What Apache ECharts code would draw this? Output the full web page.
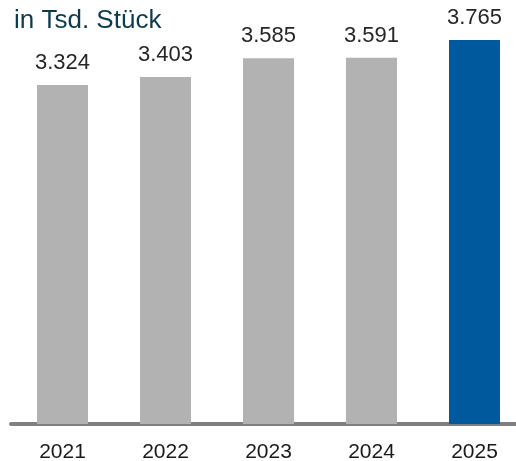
<!DOCTYPE html>
<html><head><meta charset="utf-8">
<script src="https://cdn.jsdelivr.net/npm/echarts@6/dist/echarts.min.js"></script>
<style>html,body{margin:0;padding:0;background:#fff}#c{width:516px;height:461px}</style>
</head><body><div id="c"></div>
<script>
var categories = ['2021','2022','2023','2024','2025'];
var values = [3324, 3403, 3585, 3591, 3765];
var barColors = ['#b2b2b2','#b2b2b2','#b2b2b2','#b2b2b2','#00589d'];
var titleText = 'in Tsd. Stück';
function fmt(v){ return String(v).replace(/(\d)(?=(\d{3})+$)/g,'$1.'); }
var chart = echarts.init(document.getElementById('c'), null, {renderer:'canvas'});
chart.setOption({
  animation:false,
  title:{text:titleText, left:9, top:3, textStyle:{fontFamily:'Liberation Sans, Arial, sans-serif', fontSize:26, fontWeight:'normal', color:'#0e3b4b'}},
  grid:{left:11, width:515, top:16, bottom:37, containLabel:false, outerBoundsMode:'none'},
  xAxis:{type:'category', data:categories, offset:2,
    axisLine:{lineStyle:{color:'#808080', width:4}},
    axisTick:{show:false},
    axisLabel:{margin:16, fontFamily:'Liberation Sans, Arial, sans-serif', fontSize:21, color:'#1a1a1a'}},
  yAxis:{type:'value', min:0, max:4000, show:false, splitLine:{show:false}},
  series:[{type:'bar', barWidth:51,
    data: values.map(function(v,i){return {value:v, itemStyle:{color:barColors[i]}};}),
    label:{show:true, position:'top', distance:11, formatter:function(p){return fmt(p.value);},
      fontFamily:'Liberation Sans, Arial, sans-serif', fontSize:22, color:'#262626'}}]
});
</script></body></html>
